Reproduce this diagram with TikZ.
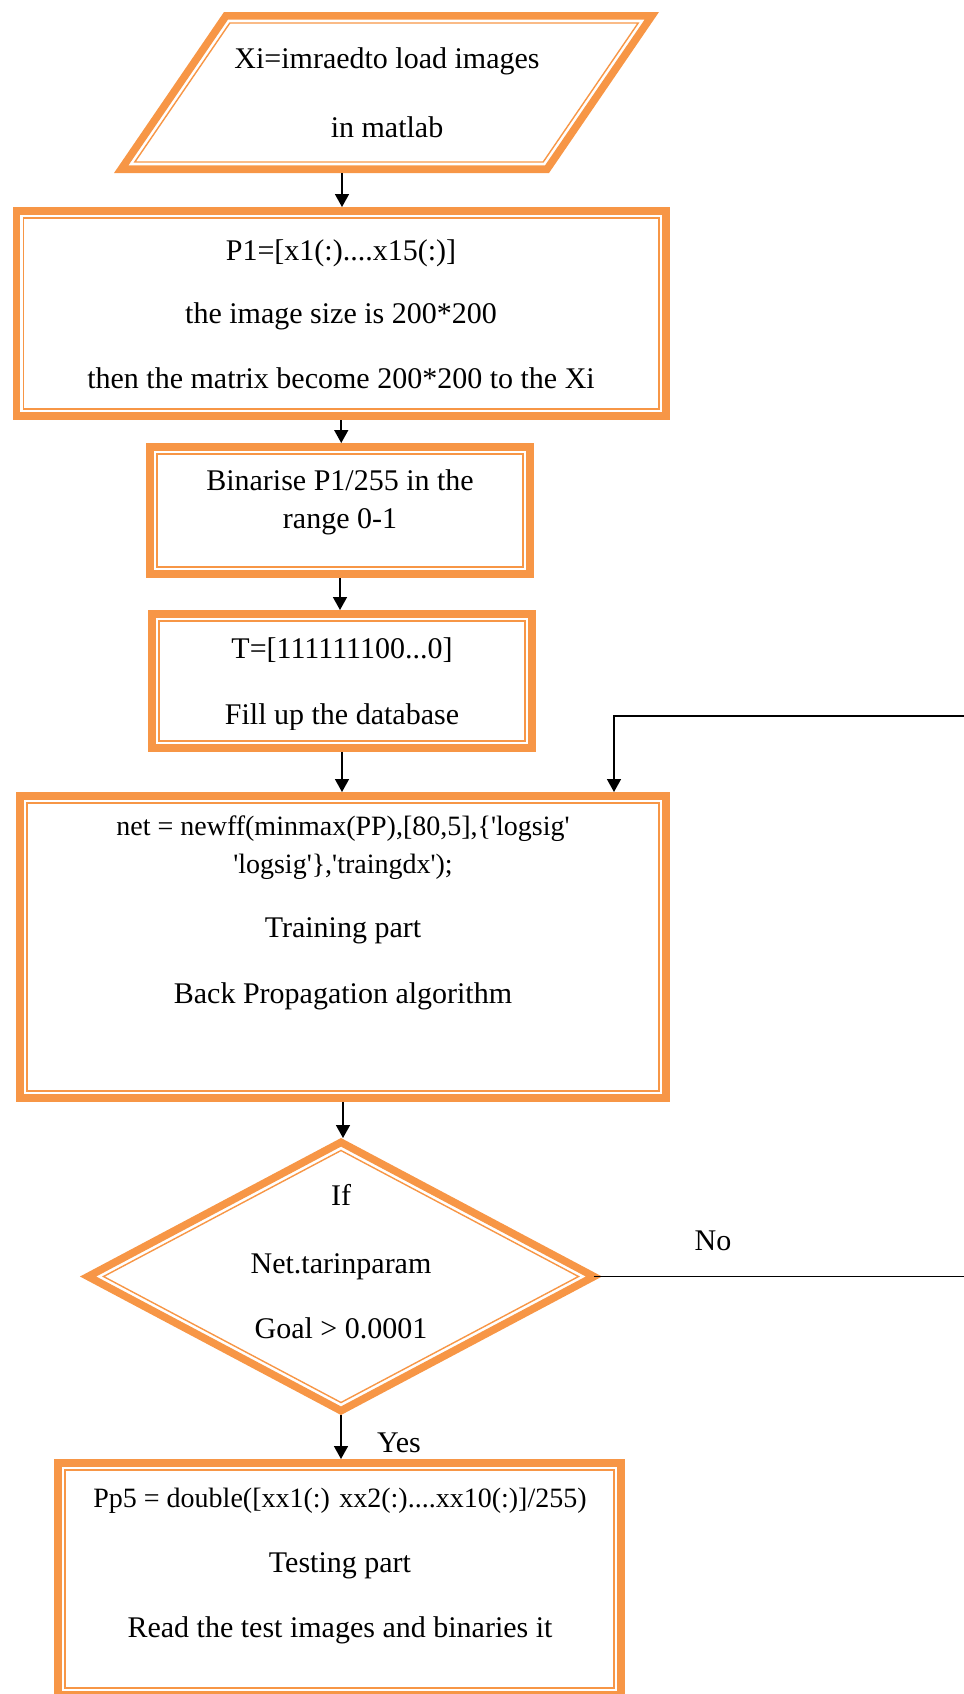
\documentclass[tikz,border=0pt]{standalone}
\usepackage{fontspec}
\setmainfont{Liberation Serif}
% code lines keep straight quotes
\newfontfamily\codefont{Liberation Serif}
\usetikzlibrary{arrows.meta,shapes.geometric}
\definecolor{boxorange}{HTML}{F79646}

% rectangle with a thick outer and a thin inner orange frame
% #1 name, #2 #3 top-left corner, #4 #5 bottom-right corner (outer edges)
\newcommand\orbox[5]{%
  \node[boxnode, minimum width={(#4-#2)*0.5pt-3.8pt}, minimum height={(#5-#3)*0.5pt-3.8pt}]
    (#1) at ({(#2+#4)/2},{(#3+#5)/2}) {};
  \draw[thinedge] ([shift={(5.5pt,-5.5pt)}]#1.north west) rectangle ([shift={(-5.5pt,5.5pt)}]#1.south east);
}

\begin{document}
\begin{tikzpicture}[x=0.5pt,y=-0.5pt,
  thickedge/.style={draw=boxorange, line width=3.8pt, line join=miter},
  thinedge/.style={draw=boxorange, line width=0.7pt, line join=miter},
  boxnode/.style={rectangle, thickedge, inner sep=0pt, outer sep=1.9pt},
  txt/.style={font=\fontsize{15}{18}\selectfont, inner sep=0pt, text height=0.7em, text depth=0.2em},
  codetxt/.style={font=\codefont\fontsize{14}{17}\selectfont, inner sep=0pt, text height=0.7em, text depth=0.2em},
  flow/.style={draw=black, line width=0.8pt, -{Triangle[width=7pt,length=6.5pt]}},
  link/.style={draw=black, line width=0.7pt},
]
\useasboundingbox (0,0) rectangle (964,1694);
\clip (0,0) rectangle (964,1694);

% input parallelogram
\draw[thickedge] (226.0,15.8) -- (651.8,15.8) -- (547.0,169.2) -- (121.2,169.2) -- cycle;
\draw[thinedge] (229.8,23) -- (638.2,23) -- (543.2,162) -- (134.8,162) -- cycle;
\coordinate (para-s) at (342,173);
\node[txt] (para1) at (387,63) {Xi=imraedto load images};
\node[txt] (para2) at (387,132) {in matlab};

% process boxes
\orbox{p1}{12.5}{207}{670}{420}
\node[txt] (p1a) at (341,255) {P1=[x1(:)....x15(:)]};
\node[txt] (p1b) at (341,318) {the image size is 200*200};
\node[txt] (p1c) at (341,383) {then the matrix become 200*200 to the Xi};

\orbox{bin}{146}{443}{534}{578}
\node[txt] (bina) at (340,485) {Binarise P1/255 in the};
\node[txt] (binb) at (340,523) {range 0-1};

\orbox{tdb}{148}{610}{536}{752}
\node[txt] (tdba) at (342,653) {T=[111111100...0]};
\begin{scope}
  \clip (148,600) rectangle (536,729);
  \node[txt] (tdbb) at (342,719.5) {Fill up the database};
\end{scope}

\orbox{net}{16}{792}{670}{1102}
\node[codetxt] (neta) at (343,830) {net = newff(minmax(PP),[80,5],\{'logsig'};
\node[codetxt] (netb) at (343,868) {'logsig'\},'traingdx');};
\node[txt] (netc) at (343,932) {Training part};
\node[txt] (netd) at (343,998) {Back Propagation algorithm};

% decision
\node[diamond, thickedge, inner sep=0pt, outer sep=0pt,
      minimum width=252.9pt, minimum height=134.2pt] (dia) at (341,1276.5) {};
\draw[thinedge] (dia.center) ++(0,-126) -- ++(237.5,126) -- ++(-237.5,126) -- ++(-237.5,-126) -- cycle;
\node[txt] (diaa) at (341,1200) {If};
\node[txt] (diab) at (341,1268) {Net.tarinparam};
\node[txt] (diac) at (341,1333) {Goal > 0.0001};

\orbox{pp5}{54}{1459}{625}{1699}
\node[codetxt] (pp5a) at (340,1502) {Pp5 = double([xx1(:) xx2(:)....xx10(:)]/255)};
\node[txt] (pp5b) at (340,1567) {Testing part};
\node[txt] (pp5c) at (340,1632) {Read the test images and binaries it};

% connectors
\coordinate (dia-top) at ([yshift=2.15pt]dia.north);
\coordinate (dia-bot) at ([yshift=-2.15pt]dia.south);
\draw[flow] (para-s) -- (para-s |- p1.north);
\draw[flow] (p1.south) -- (p1.south |- bin.north);
\draw[flow] (bin.south) -- (bin.south |- tdb.north);
\draw[flow] (tdb.south) -- (tdb.south |- net.north);
\draw[flow] (net.south) -- (net.south |- dia-top);
\draw[flow] (dia-bot) -- (dia-bot |- pp5.north);

% loop back when the goal is not met
\coordinate (edgeNo) at (964,1276.5);
\coordinate (edgeTop) at (964,716);
\coordinate (fbx) at (614,716);
\draw[link] (dia.east) -- (edgeNo);
\draw[flow, line width=0.75pt] (edgeTop) -- (fbx) -- (fbx |- net.north);
\node[txt] (no) at (713,1245) {No};
\node[txt] (yes) at (399,1447) {Yes};
\end{tikzpicture}
\end{document}
